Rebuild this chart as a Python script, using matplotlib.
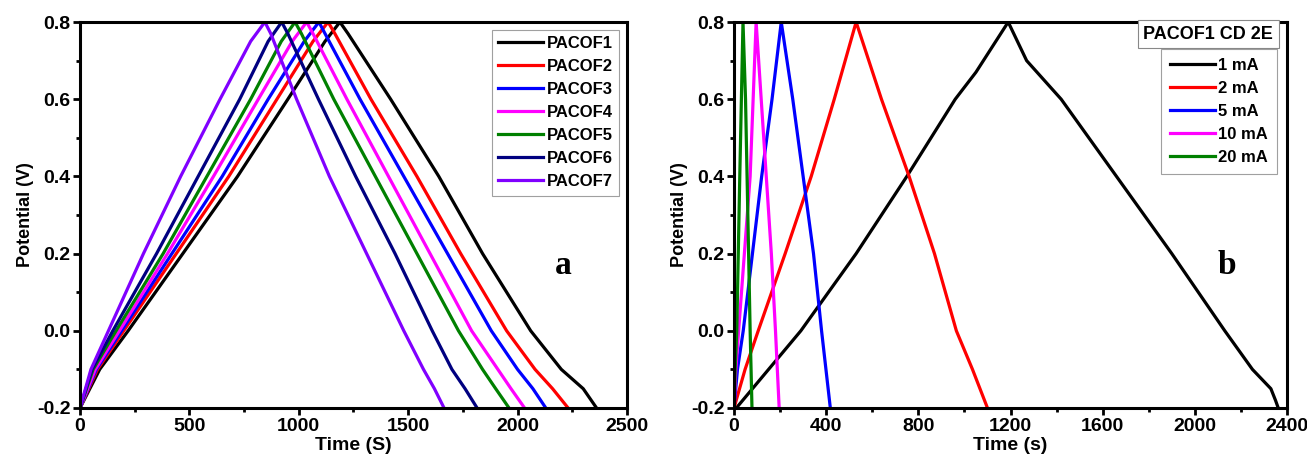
import matplotlib
matplotlib.use("Agg")
import matplotlib.pyplot as plt
from matplotlib.ticker import MultipleLocator

plt.rcParams['font.family'] = ['Liberation Sans', 'DejaVu Sans']
plt.rcParams['font.weight'] = 'bold'

# ---------------- Panel a data ----------------
pot_a = [-0.2, -0.1, 0.0, 0.2, 0.4, 0.6, 0.75, 0.8, 0.77, 0.6, 0.4, 0.2, 0.0, -0.1, -0.15, -0.2]
labels_a = ['PACOF1', 'PACOF2', 'PACOF3', 'PACOF4', 'PACOF5', 'PACOF6', 'PACOF7']
colors_a = ['#000000', '#ff0000', '#0000ff', '#ff00ff', '#008000', '#000080', '#8000ff']
t_pacof1 = [0, 90, 220, 470, 720, 950, 1120, 1188, 1225, 1420, 1640, 1840, 2060, 2200, 2300, 2361]
t_pacof2 = [0, 80, 200, 440, 680, 900, 1065, 1134, 1165, 1330, 1540, 1740, 1950, 2080, 2160, 2231]
t_pacof3 = [0, 75, 190, 420, 650, 860, 1025, 1092, 1120, 1280, 1480, 1680, 1880, 2000, 2070, 2129]
t_pacof4 = [0, 70, 180, 400, 610, 815, 970, 1036, 1065, 1220, 1410, 1600, 1790, 1910, 1970, 2032]
t_pacof5 = [0, 60, 165, 380, 580, 780, 920, 983, 1012, 1160, 1350, 1540, 1730, 1840, 1900, 1961]
t_pacof6 = [0, 55, 150, 350, 540, 730, 860, 922, 950, 1090, 1260, 1440, 1610, 1700, 1760, 1815]
t_pacof7 = [0, 50, 130, 290, 460, 640, 780, 845, 872, 990, 1140, 1310, 1480, 1570, 1620, 1664]
times_a = [t_pacof1, t_pacof2, t_pacof3, t_pacof4, t_pacof5, t_pacof6, t_pacof7]

# ---------------- Panel b data ----------------
labels_b = ['1 mA', '2 mA', '5 mA', '10 mA', '20 mA']
colors_b = ['#000000', '#ff0000', '#0000ff', '#ff00ff', '#008000']
t_1mA = [10, 150, 290, 530, 750, 960, 1050, 1190, 1270, 1420, 1660, 1900, 2130, 2250, 2330, 2350, 2362]
v_1mA = [-0.2, -0.1, 0.0, 0.2, 0.4, 0.6, 0.67, 0.8, 0.7, 0.6, 0.4, 0.2, 0.0, -0.1, -0.15, -0.18, -0.2]
t_2mA = [0, 48, 105, 222, 335, 435, 530, 640, 760, 870, 965, 1035, 1100]
v_2mA = [-0.2, -0.1, 0.0, 0.2, 0.4, 0.6, 0.8, 0.6, 0.4, 0.2, 0.0, -0.1, -0.2]
t_5mA = [0, 15, 40, 80, 120, 165, 205, 255, 300, 345, 380, 418]
v_5mA = [-0.2, -0.1, 0.0, 0.2, 0.4, 0.6, 0.8, 0.6, 0.4, 0.2, 0.0, -0.2]
t_10mA = [0, 8, 20, 45, 70, 96, 118, 140, 162, 180, 196]
v_10mA = [-0.2, -0.1, 0.0, 0.2, 0.4, 0.8, 0.6, 0.4, 0.2, 0.0, -0.2]
t_20mA = [0, 5, 12, 25, 39, 50, 60, 70, 78]
v_20mA = [-0.2, -0.1, 0.0, 0.4, 0.8, 0.6, 0.3, 0.0, -0.2]
times_b = [t_1mA, t_2mA, t_5mA, t_10mA, t_20mA]
pots_b = [v_1mA, v_2mA, v_5mA, v_10mA, v_20mA]

fig = plt.figure(figsize=(13.07, 4.65), dpi=100)
ax1 = fig.add_axes([0.0612, 0.1226, 0.4185, 0.830])
ax2 = fig.add_axes([0.5616, 0.1226, 0.4231, 0.830])

lw = 2.3
for t, lab, c in zip(times_a, labels_a, colors_a):
    ax1.plot(t, pot_a, color=c, lw=lw, label=lab, solid_joinstyle='round')
for t, v, lab, c in zip(times_b, pots_b, labels_b, colors_b):
    ax2.plot(t, v, color=c, lw=lw, label=lab, solid_joinstyle='round')

fs_tick = 14
for ax in (ax1, ax2):
    ax.set_ylim(-0.2, 0.8)
    ax.yaxis.set_major_locator(MultipleLocator(0.2))
    ax.yaxis.set_minor_locator(MultipleLocator(0.1))
    for s in ax.spines.values():
        s.set_linewidth(2.2)
    ax.tick_params(which='major', direction='out', length=5, width=2, labelsize=fs_tick, pad=2)
    ax.tick_params(which='minor', direction='out', length=3, width=2)
    ax.set_ylabel('Potential (V)', fontsize=13, fontweight='bold', labelpad=2)

ax1.set_xlim(0, 2500)
ax1.xaxis.set_major_locator(MultipleLocator(500))
ax1.xaxis.set_minor_locator(MultipleLocator(250))
ax1.set_xlabel('Time (S)', fontsize=14, fontweight='bold', labelpad=2)
ax1.set_yticks([-0.2, 0.0, 0.2, 0.4, 0.6, 0.8])
ax1.set_yticklabels(['-0.2', '0.0', '0.2', '0.4', '0.6', '0.8'], fontweight='bold')

ax2.set_xlim(0, 2400)
ax2.xaxis.set_major_locator(MultipleLocator(400))
ax2.xaxis.set_minor_locator(MultipleLocator(200))
ax2.set_xlabel('Time (s)', fontsize=14, fontweight='bold', labelpad=2)
ax2.set_yticks([-0.2, 0.0, 0.2, 0.4, 0.6, 0.8])
ax2.set_yticklabels(['-0.2', '0.0', '0.2', '0.4', '0.6', '0.8'], fontweight='bold')

for ax in (ax1, ax2):
    for lab in ax.get_xticklabels() + ax.get_yticklabels():
        lab.set_fontweight('bold')

leg1 = ax1.legend(loc='upper right', frameon=True, fancybox=False,
                  edgecolor='#888888', handlelength=2.7, handletextpad=0.2,
                  labelspacing=0.48, borderaxespad=0.45, borderpad=0.4,
                  prop={'weight': 'bold', 'size': 12})
leg1.get_frame().set_linewidth(0.8)

leg2 = ax2.legend(loc='upper right', bbox_to_anchor=(0.982, 0.930), frameon=True, fancybox=False,
                  edgecolor='#888888', handlelength=2.7, handletextpad=0.2,
                  labelspacing=0.48, borderaxespad=0.0, borderpad=0.55,
                  prop={'weight': 'bold', 'size': 12})
leg2.get_frame().set_linewidth(0.8)
ax2.text(0.975, 0.99, 'PACOF1 CD 2E', transform=ax2.transAxes, ha='right', va='top',
         fontsize=13, fontweight='bold',
         bbox=dict(boxstyle='square,pad=0.3', fc='white', ec='#888888', lw=0.8))

ax1.text(0.883, 0.37, 'a', transform=ax1.transAxes, fontsize=24, fontweight='bold',
         family='Liberation Serif', ha='center', va='center')
ax2.text(0.891, 0.37, 'b', transform=ax2.transAxes, fontsize=24, fontweight='bold',
         family='Liberation Serif', ha='center', va='center')

fig.savefig('out.png', dpi=100)
